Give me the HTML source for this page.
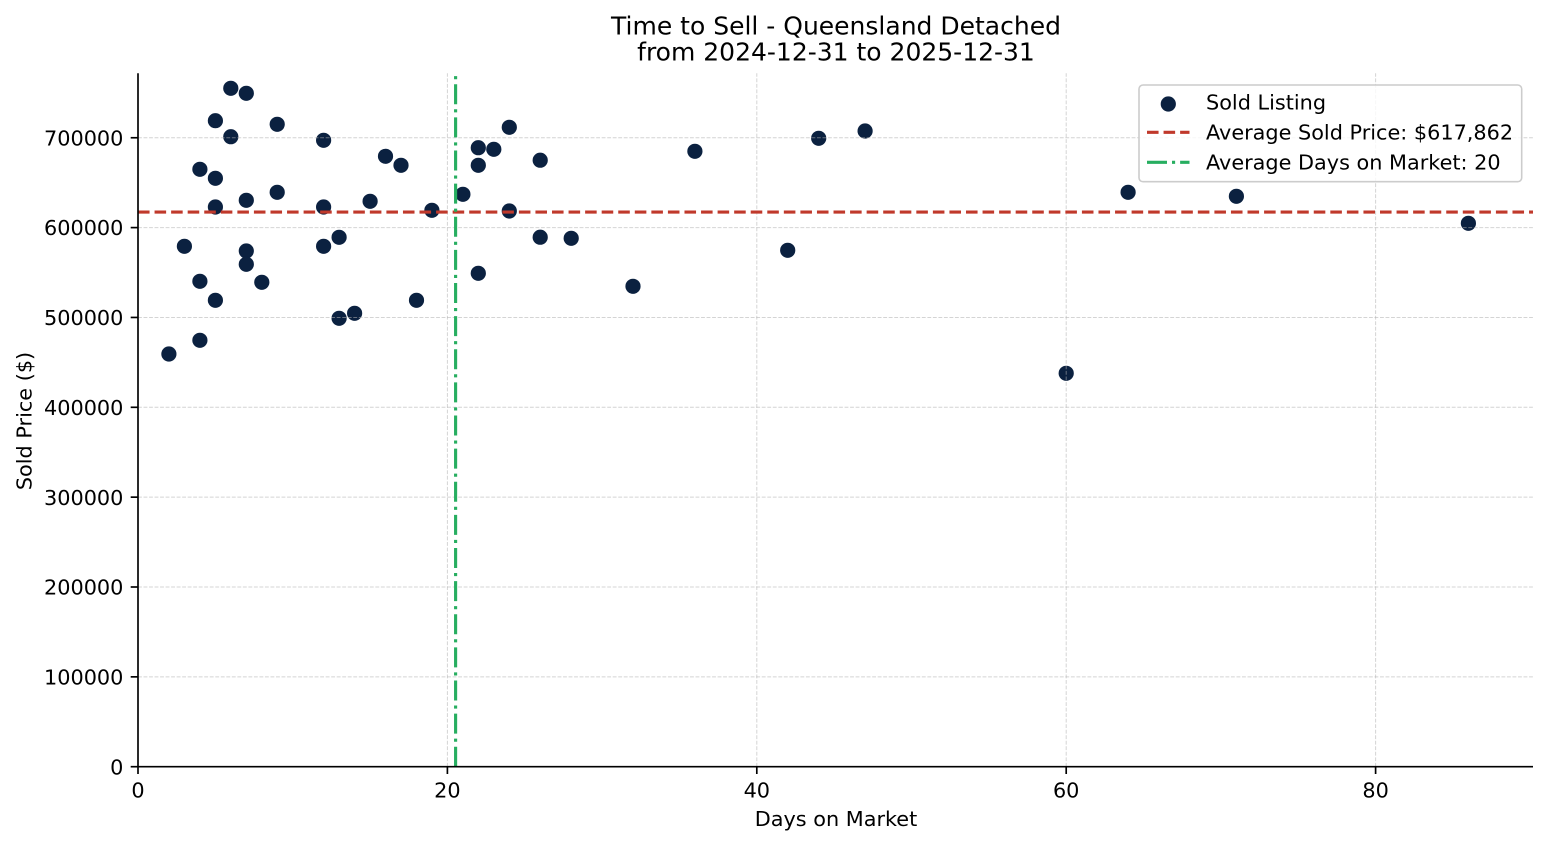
<!DOCTYPE html>
<html><head><meta charset="utf-8"><style>html,body{margin:0;padding:0;background:#fff;}svg{display:block;}</style></head>
<body>
<svg width="1547" height="845" viewBox="0 0 1547 845" xmlns="http://www.w3.org/2000/svg" font-family="'DejaVu Sans', 'Liberation Sans', sans-serif">
<rect x="0" y="0" width="1547" height="845" fill="#ffffff"/>
<g fill="#0b2140">
<circle cx="168.9" cy="354" r="7.6"/>
<circle cx="184.4" cy="246.3" r="7.6"/>
<circle cx="199.9" cy="169.3" r="7.6"/>
<circle cx="199.9" cy="281.3" r="7.6"/>
<circle cx="199.9" cy="340.3" r="7.6"/>
<circle cx="215.4" cy="120.7" r="7.6"/>
<circle cx="215.4" cy="178.3" r="7.6"/>
<circle cx="215.4" cy="207" r="7.6"/>
<circle cx="215.4" cy="300.3" r="7.6"/>
<circle cx="230.8" cy="88.3" r="7.6"/>
<circle cx="230.8" cy="136.7" r="7.6"/>
<circle cx="246.3" cy="93.3" r="7.6"/>
<circle cx="246.3" cy="200.3" r="7.6"/>
<circle cx="246.3" cy="251" r="7.6"/>
<circle cx="246.3" cy="264.3" r="7.6"/>
<circle cx="261.8" cy="282.3" r="7.6"/>
<circle cx="277.2" cy="124.3" r="7.6"/>
<circle cx="277.2" cy="192.3" r="7.6"/>
<circle cx="323.6" cy="140.3" r="7.6"/>
<circle cx="323.6" cy="207" r="7.6"/>
<circle cx="323.6" cy="246.3" r="7.6"/>
<circle cx="339.1" cy="237.3" r="7.6"/>
<circle cx="339.1" cy="318.3" r="7.6"/>
<circle cx="354.6" cy="313.3" r="7.6"/>
<circle cx="370.1" cy="201.3" r="7.6"/>
<circle cx="385.5" cy="156.3" r="7.6"/>
<circle cx="401" cy="165.3" r="7.6"/>
<circle cx="416.5" cy="300.3" r="7.6"/>
<circle cx="431.9" cy="210.3" r="7.6"/>
<circle cx="462.9" cy="194.3" r="7.6"/>
<circle cx="478.3" cy="147.7" r="7.6"/>
<circle cx="478.3" cy="165.3" r="7.6"/>
<circle cx="478.3" cy="273.3" r="7.6"/>
<circle cx="493.8" cy="149.3" r="7.6"/>
<circle cx="509.3" cy="127.3" r="7.6"/>
<circle cx="509.3" cy="211" r="7.6"/>
<circle cx="540.2" cy="160.2" r="7.6"/>
<circle cx="540.2" cy="237.2" r="7.6"/>
<circle cx="571.2" cy="238.3" r="7.6"/>
<circle cx="633" cy="286.3" r="7.6"/>
<circle cx="694.9" cy="151.3" r="7.6"/>
<circle cx="787.7" cy="250.3" r="7.6"/>
<circle cx="818.7" cy="138.3" r="7.6"/>
<circle cx="865.1" cy="131" r="7.6"/>
<circle cx="1066.2" cy="373.3" r="7.6"/>
<circle cx="1128.1" cy="192.3" r="7.6"/>
<circle cx="1236.4" cy="196.3" r="7.6"/>
<circle cx="1468.4" cy="223.3" r="7.6"/>
</g>
<g stroke="#b0b0b0" stroke-opacity="0.55" stroke-width="1" stroke-dasharray="3.85 1.67" fill="none">
<line x1="138" y1="676.85" x2="1533" y2="676.85"/>
<line x1="138" y1="587" x2="1533" y2="587"/>
<line x1="138" y1="497.15" x2="1533" y2="497.15"/>
<line x1="138" y1="407.3" x2="1533" y2="407.3"/>
<line x1="138" y1="317.45" x2="1533" y2="317.45"/>
<line x1="138" y1="227.6" x2="1533" y2="227.6"/>
<line x1="138" y1="137.75" x2="1533" y2="137.75"/>
<line x1="447.4" y1="766.7" x2="447.4" y2="73.3"/>
<line x1="756.8" y1="766.7" x2="756.8" y2="73.3"/>
<line x1="1066.2" y1="766.7" x2="1066.2" y2="73.3"/>
<line x1="1375.6" y1="766.7" x2="1375.6" y2="73.3"/>
</g>
<line x1="138" y1="212" x2="1533" y2="212" stroke="#c0392b" stroke-width="3.125" stroke-dasharray="11.56 5"/>
<line x1="455.6" y1="766.7" x2="455.6" y2="73.3" stroke="#27ae60" stroke-width="3.125" stroke-dasharray="20 5 3.125 5"/>
<g stroke="#000" stroke-width="1.67" fill="none">
<line x1="138" y1="73.3" x2="138" y2="767.5"/>
<line x1="137.2" y1="766.7" x2="1533" y2="766.7"/>
<line x1="130.7" y1="766.7" x2="138" y2="766.7"/>
<line x1="130.7" y1="676.85" x2="138" y2="676.85"/>
<line x1="130.7" y1="587" x2="138" y2="587"/>
<line x1="130.7" y1="497.15" x2="138" y2="497.15"/>
<line x1="130.7" y1="407.3" x2="138" y2="407.3"/>
<line x1="130.7" y1="317.45" x2="138" y2="317.45"/>
<line x1="130.7" y1="227.6" x2="138" y2="227.6"/>
<line x1="130.7" y1="137.75" x2="138" y2="137.75"/>
<line x1="138" y1="766.7" x2="138" y2="774"/>
<line x1="447.4" y1="766.7" x2="447.4" y2="774"/>
<line x1="756.8" y1="766.7" x2="756.8" y2="774"/>
<line x1="1066.2" y1="766.7" x2="1066.2" y2="774"/>
<line x1="1375.6" y1="766.7" x2="1375.6" y2="774"/>
</g>
<g font-size="20.8" fill="#000" text-anchor="end">
<text x="123.4" y="774.3">0</text>
<text x="123.4" y="684.45">100000</text>
<text x="123.4" y="594.6">200000</text>
<text x="123.4" y="504.75">300000</text>
<text x="123.4" y="414.9">400000</text>
<text x="123.4" y="325.05">500000</text>
<text x="123.4" y="235.2">600000</text>
<text x="123.4" y="145.35">700000</text>
</g>
<g font-size="20.8" fill="#000" text-anchor="middle">
<text x="138" y="797.5">0</text>
<text x="447.4" y="797.5">20</text>
<text x="756.8" y="797.5">40</text>
<text x="1066.2" y="797.5">60</text>
<text x="1375.6" y="797.5">80</text>
</g>
<text x="836" y="826" font-size="20.8" text-anchor="middle" fill="#000">Days on Market</text>
<text transform="translate(31.5,421) rotate(-90)" font-size="20.8" text-anchor="middle" fill="#000">Sold Price ($)</text>
<g font-size="25" text-anchor="middle" fill="#000">
<text x="836" y="34.3">Time to Sell - Queensland Detached</text>
<text x="836" y="60.5">from 2024-12-31 to 2025-12-31</text>
</g>
<rect x="1139" y="85" width="382.7" height="96.7" rx="4" ry="4" fill="#ffffff" fill-opacity="0.8" stroke="#cccccc" stroke-width="1.6"/>
<circle cx="1168.3" cy="104" r="7.6" fill="#0b2140"/>
<line x1="1147" y1="132.3" x2="1189.5" y2="132.3" stroke="#c0392b" stroke-width="3.125" stroke-dasharray="11.56 5"/>
<line x1="1147" y1="162.3" x2="1189.5" y2="162.3" stroke="#27ae60" stroke-width="3.125" stroke-dasharray="20 5 3.125 5"/>
<g font-size="20.8" fill="#000">
<text x="1206" y="109.3">Sold Listing</text>
<text x="1206" y="139.3">Average Sold Price: $617,862</text>
<text x="1206" y="169.3">Average Days on Market: 20</text>
</g>
</svg>
</body></html>
